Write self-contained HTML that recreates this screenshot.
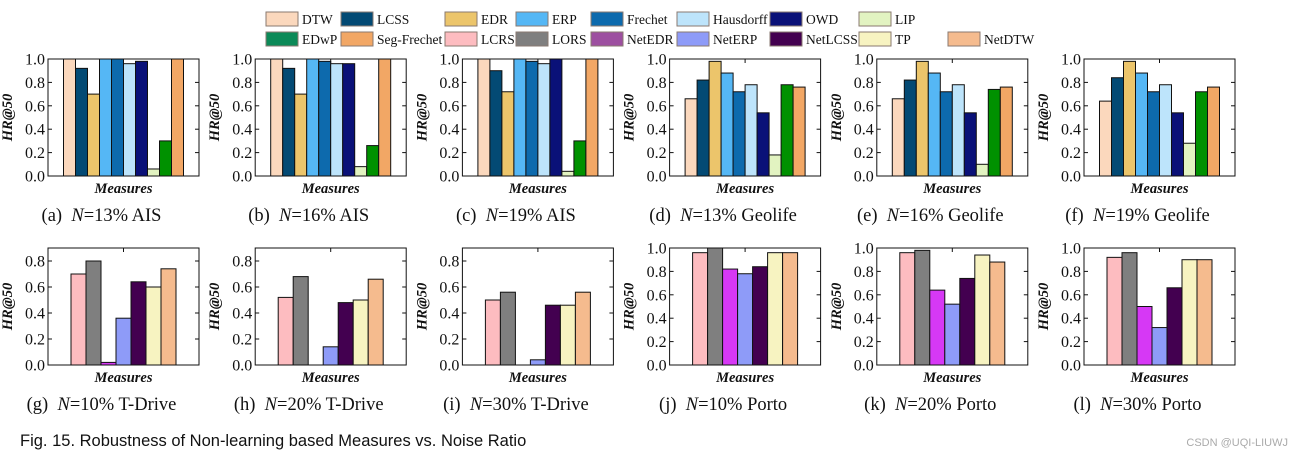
<!DOCTYPE html>
<html><head><meta charset="utf-8"><style>
body{margin:0;background:#fff;width:1303px;height:459px;overflow:hidden}
svg{display:block}
.tk{font-family:"Liberation Serif",serif;font-size:16px;fill:#111}
.cap{font-family:"Liberation Serif",serif;font-size:18.5px;fill:#111}
.ax{font-family:"Liberation Serif",serif;font-size:14.5px;font-weight:bold;font-style:italic;fill:#111}
.lg{font-family:"Liberation Serif",serif;font-size:13.5px;fill:#111}
</style></head><body>
<svg id="fig" width="1303" height="459">
<text x="20" y="446" style="font-family:'Liberation Sans',sans-serif;font-size:16.5px;fill:#111">Fig. 15. Robustness of Non-learning based Measures vs. Noise Ratio</text>
<text x="1288" y="446" text-anchor="end" style="font-family:'Liberation Sans',sans-serif;font-size:11px;fill:#aaa">CSDN @UQI-LIUWJ</text>
</svg>
<script>
const legendNames=["DTW","LCSS","EDR","ERP","Frechet","Hausdorff","OWD","LIP","EDwP","Seg-Frechet","LCRS","LORS","NetEDR","NetERP","NetLCSS","TP","NetDTW"];
const legendColors=["#fbd8bd","#034a74","#ecc56b","#55b7f5","#0d6aad","#bde4fb","#0a1178","#e2f3c1","#0c8a58","#f2a765","#fdbcc0","#7f7f7f","#9d4fa0","#8e9bf8","#430050","#f7f3c1","#f5bb8e"];
const colorsA=["#fbd8bd","#034a74","#ecc56b","#55b7f5","#0d6aad","#bde4fb","#0a1178","#e2f3c1","#009100","#f2a765"];
const colorsB=["#fdbcc0","#7f7f7f","#d638f5","#8e9bf8","#430050","#f7f3c1","#f5bb8e"];
const captions=["(a)|13% AIS","(b)|16% AIS","(c)|19% AIS","(d)|13% Geolife","(e)|16% Geolife","(f)|19% Geolife","(g)|10% T-Drive","(h)|20% T-Drive","(i)|30% T-Drive","(j)|10% Porto","(k)|20% Porto","(l)|30% Porto"];
const vA=[1.0,0.92,0.70,1.0,1.0,0.96,0.98,0.06,0.30,1.0];
const vB=[1.0,0.92,0.70,1.0,0.98,0.96,0.96,0.08,0.26,1.0];
const vC=[1.0,0.90,0.72,1.0,0.98,0.96,1.0,0.04,0.30,1.0];
const vD=[0.66,0.82,0.98,0.88,0.72,0.78,0.54,0.18,0.78,0.76];
const vE=[0.66,0.82,0.98,0.88,0.72,0.78,0.54,0.10,0.74,0.76];
const vF=[0.64,0.84,0.98,0.88,0.72,0.78,0.54,0.28,0.72,0.76];
const vG=[0.70,0.80,0.02,0.36,0.64,0.60,0.74];
const vH=[0.52,0.68,0.0,0.14,0.48,0.50,0.66];
const vI=[0.50,0.56,0.0,0.04,0.46,0.46,0.56];
const vJ=[0.96,1.0,0.82,0.78,0.84,0.96,0.96];
const vK=[0.96,0.98,0.64,0.52,0.74,0.94,0.88];
const vL=[0.92,0.96,0.50,0.32,0.66,0.90,0.90];
const ticks1=["0.0","0.2","0.4","0.6","0.8","1.0"];
const ticks2=["0.0","0.2","0.4","0.6","0.8"];
const yMax=[1,1,1,1,1,1,0.9,0.9,0.9,1,1,1];
const allVals=[vA,vB,vC,vD,vE,vF,vG,vH,vI,vJ,vK,vL];
const NS="http://www.w3.org/2000/svg";
const svg=document.getElementById('fig');
function mk(t,a,p){const e=document.createElementNS(NS,t);for(const k in a)e.setAttribute(k,a[k]);(p||svg).appendChild(e);return e;}
const lgX=[266,341,445,516,591,677,770,859,948];
legendNames.forEach((n,i)=>{
  const r=i<8?0:1, c=i<8?i:i-8;
  const x=lgX[c], y=r?32:12;
  const g=mk('g',{});
  
  
  mk('rect',{x:x,y:y,width:32,height:14,fill:legendColors[i],stroke:'#8a7a70','stroke-width':1},g);
  const t=mk('text',{x:x+36,y:y+12,class:'lg'},g);t.textContent=n;
});
allVals.forEach((vals,p)=>{
  const row=p<6?0:1, col=p%6;
  const L=48+207.2*col, W=151, T=row?248:59, B=row?365:176, H=B-T;
  const ym=yMax[p];
  const Y=v=>B-v/ym*H;
  const g=mk('g',{});
  
  
  const n=vals.length, bw=n===10?12:15, cols=n===10?colorsA:colorsB;
  const x0=L+W/2-n*bw/2;
  vals.forEach((v,i)=>{
    const r=mk('rect',{x:x0+i*bw,y:Y(v),width:bw,height:B-Y(v),fill:cols[i],stroke:'#111','stroke-width':1},g);
    
    
  });
  mk('rect',{x:L,y:T,width:W,height:H,fill:'none',stroke:'#111','stroke-width':1},g);
  const tl=(ym<1)?ticks2:ticks1;
  tl.forEach(s=>{
    const v=parseFloat(s), y=Y(v);
    mk('line',{x1:L,x2:L+4,y1:y,y2:y,stroke:'#111'},g);
    mk('line',{x1:L+W-4,x2:L+W,y1:y,y2:y,stroke:'#111'},g);
    const t=mk('text',{x:L-3,y:y+5.5,'text-anchor':'end',class:'tk'},g);t.textContent=s;
  });
  mk('line',{x1:L+W/2,x2:L+W/2,y1:T,y2:T+4,stroke:'#111'},g);
  const xl=mk('text',{x:L+W/2,y:B+17,'text-anchor':'middle',class:'ax'},g);xl.textContent='Measures';
  
  const yl=mk('text',{x:0,y:0,'text-anchor':'middle',class:'ax',transform:`translate(${L-36},${T+H/2}) rotate(-90)`},g);yl.textContent='HR@50';
  
  const [lab,rest]=captions[p].split('|');
  const c=mk('text',{x:L+W/2-22,y:B+45,'text-anchor':'middle',class:'cap'},g);
  
  const t1=mk('tspan',{},c);t1.textContent=lab+'\u00a0\u00a0';
  const t2=mk('tspan',{'font-style':'italic'},c);t2.textContent='N';
  const t3=mk('tspan',{},c);t3.textContent='='+rest;
});
</script>
</body></html>
